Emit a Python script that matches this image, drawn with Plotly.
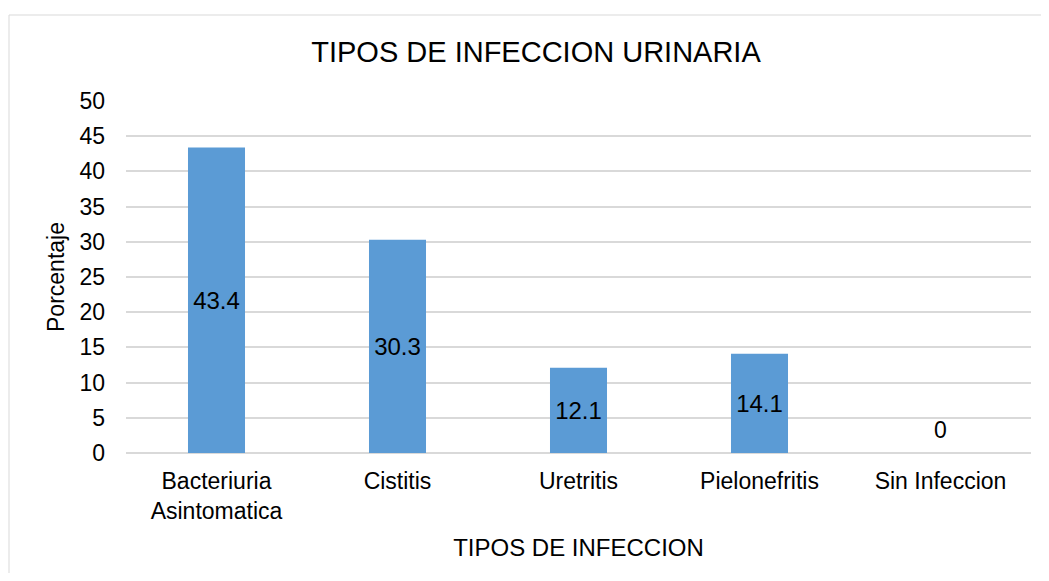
import plotly.graph_objects as go

categorias = ["Bacteriuria<br>Asintomatica", "Cistitis", "Uretritis", "Pielonefritis", "Sin Infeccion"]
porcentajes = [43.4, 30.3, 12.1, 14.1, 0]
y_ticks = list(range(0, 55, 5))

# the page body adds an 8px margin, so the figure is shifted by that much
OFF = 8
W, H = 1049 - 2 * OFF, 581 - 2 * OFF
# wanted plot area on screen: x 126-1031, y 101-453
L, T = 126 - OFF, 101 - OFF
pw, ph = 905, 352
R, B = W - L - pw, H - T - ph

fig = go.Figure()

fig.add_trace(go.Bar(
    x=categorias,
    y=porcentajes,
    marker=dict(color="#5B9BD5", line=dict(width=0)),
    text=[str(v) if v else "" for v in porcentajes],
    textposition="inside",
    insidetextanchor="middle",
    textangle=0,
    textfont=dict(size=24, color="black"),
    width=0.315,
))

# label for empty bar
for c, v in zip(categorias, porcentajes):
    if v == 0:
        fig.add_annotation(x=c, y=v, text="0", showarrow=False, yanchor="bottom",
                           yshift=8, font=dict(size=23, color="black"))

# chart border (screen x=9, y=15)
fig.add_shape(type="rect", xref="paper", yref="paper",
              x0=(9 - OFF - L) / pw, x1=1.2, y0=-0.6, y1=1 + (T - (15 - OFF)) / ph,
              line=dict(color="#d9d9d9", width=1), layer="below")

fig.update_layout(
    width=W, height=H,
    margin=dict(l=L, r=R, t=T, b=B),
    paper_bgcolor="white",
    plot_bgcolor="white",
    font=dict(family="Liberation Sans, Arial", color="black", size=23),
    title=dict(text="TIPOS DE INFECCION URINARIA", x=(536 - OFF) / W, xref="container",
               xanchor="center", y=1 - (52 - OFF) / H, yanchor="middle",
               font=dict(size=29), automargin=False),
    xaxis=dict(
        title=dict(text="TIPOS DE INFECCION", font=dict(size=24), standoff=16),
        showgrid=False, showline=False, ticks="", tickfont=dict(size=23),
        ticklabelstandoff=12, automargin=False,
    ),
    yaxis=dict(
        title=dict(text="Porcentaje", font=dict(size=23), standoff=8),
        range=[0, 50], tickvals=y_ticks, showgrid=True, gridcolor="#d9d9d9", gridwidth=1.5,
        zeroline=True, zerolinecolor="#d9d9d9", zerolinewidth=1.5,
        ticks="", tickfont=dict(size=23), ticklabelstandoff=20, automargin=False,
    ),
    showlegend=False,
)

fig.write_html("out.html")
